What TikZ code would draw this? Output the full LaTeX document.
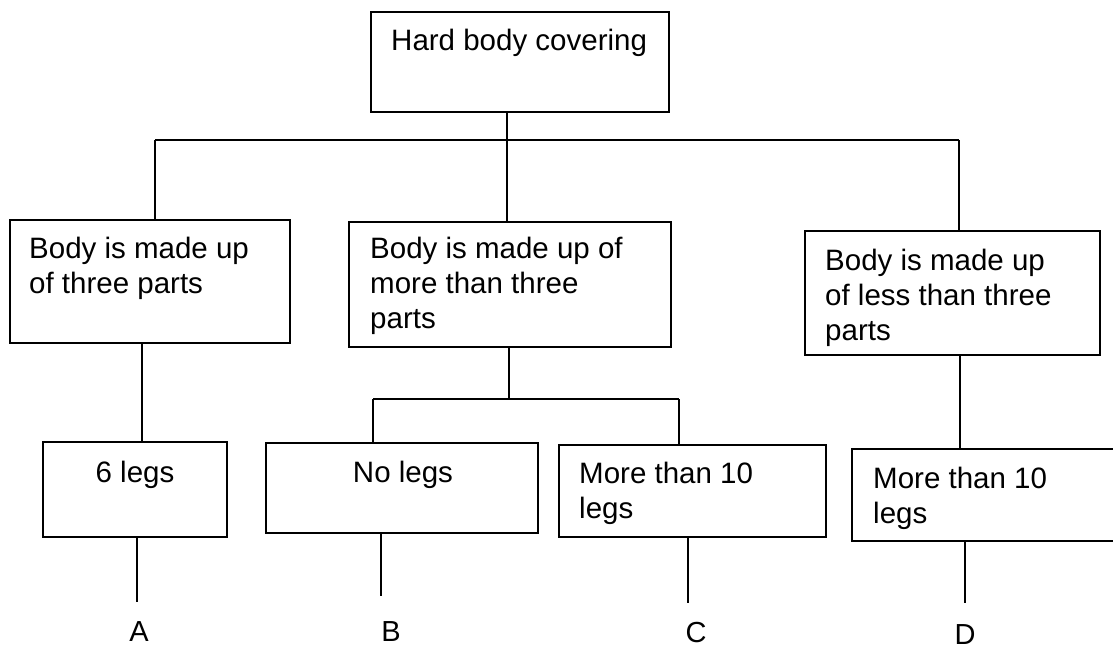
\documentclass[tikz,border=0pt]{standalone}
\usepackage{fontspec}
\setmainfont{Liberation Sans}
\begin{document}
\begin{tikzpicture}[x=1pt,y=-1pt,
  box/.style={draw, line width=1.6pt, inner sep=0pt, rectangle},
  txt/.style={inner sep=0pt, font=\fontsize{29.5}{35}\selectfont, align=left, anchor=base west},
  ctxt/.style={inner sep=0pt, font=\fontsize{29.5}{35}\selectfont, anchor=base},
  lbl/.style={inner sep=0pt, font=\fontsize{29}{35}\selectfont},
  conn/.style={line width=1.6pt}]
\useasboundingbox (0,0) rectangle (1113,649);
\clip (0,0) rectangle (1113,649);
% boxes
\node[box, minimum width=298pt, minimum height=100pt] (top) at (520,62) {};
\node[box, minimum width=280pt, minimum height=123pt] (lb) at (150,281.5) {};
\node[box, minimum width=322pt, minimum height=125pt] (mb) at (510,284.5) {};
\node[box, minimum width=295pt, minimum height=124pt] (rb) at (952.5,293) {};
\node[box, minimum width=184pt, minimum height=95pt] (ab) at (135,489.5) {};
\node[box, minimum width=272pt, minimum height=90pt] (bb) at (402,488) {};
\node[box, minimum width=267pt, minimum height=92pt] (cb) at (692.5,491) {};
\node[box, minimum width=273pt, minimum height=92pt] (db) at (988.5,495) {};
% texts (base anchor = baseline of last line)
\node[txt] (t0) at (391,50) {Hard body covering};
\node[txt] (t1) at (29,293) {Body is made up\\of three parts};
\node[txt] (t2) at (370,328) {Body is made up of\\more than three\\parts};
\node[txt] (t3) at (825,340) {Body is made up\\of less than three\\parts};
\node[ctxt] (t4) at (135,482) {6 legs};
\node[ctxt] (t5) at (403,482) {No legs};
\node[txt] (t6) at (579,518) {More than 10\\legs};
\node[txt] (t7) at (873,523) {More than 10\\legs};
% labels
\node[lbl] (la) at (139,632) {A};
\node[lbl] (lbB) at (391,632) {B};
\node[lbl] (lc) at (696,633) {C};
\node[lbl] (ld) at (965,635) {D};
% junctions
\coordinate (j0) at (507,140);
\coordinate (jl) at (155,140);
\coordinate (jr) at (959,140);
\coordinate (ja) at (142,0);
\coordinate (jm) at (509,399);
\coordinate (jb) at (373,399);
\coordinate (jc) at (679,399);
\coordinate (jd) at (960,0);
\coordinate (ea) at (137,602);
\coordinate (eb) at (381,596);
\coordinate (ec) at (688,603);
\coordinate (ed) at (965,603);
% connectors
\draw[conn] (top.south -| j0) -- (mb.north -| j0);
\draw[conn] (jl) -- (jr);
\draw[conn] (jl) -- (lb.north -| jl);
\draw[conn] (jr) -- (rb.north -| jr);
\draw[conn] (lb.south -| ja) -- (ab.north -| ja);
\draw[conn] (mb.south -| jm) -- (jm);
\draw[conn] (jb) -- (jc);
\draw[conn] (jb) -- (bb.north -| jb);
\draw[conn] (jc) -- (cb.north -| jc);
\draw[conn] (rb.south -| jd) -- (db.north -| jd);
\draw[conn] (ab.south -| ea) -- (ea);
\draw[conn] (bb.south -| eb) -- (eb);
\draw[conn] (cb.south -| ec) -- (ec);
\draw[conn] (db.south -| ed) -- (ed);
\end{tikzpicture}
\end{document}
